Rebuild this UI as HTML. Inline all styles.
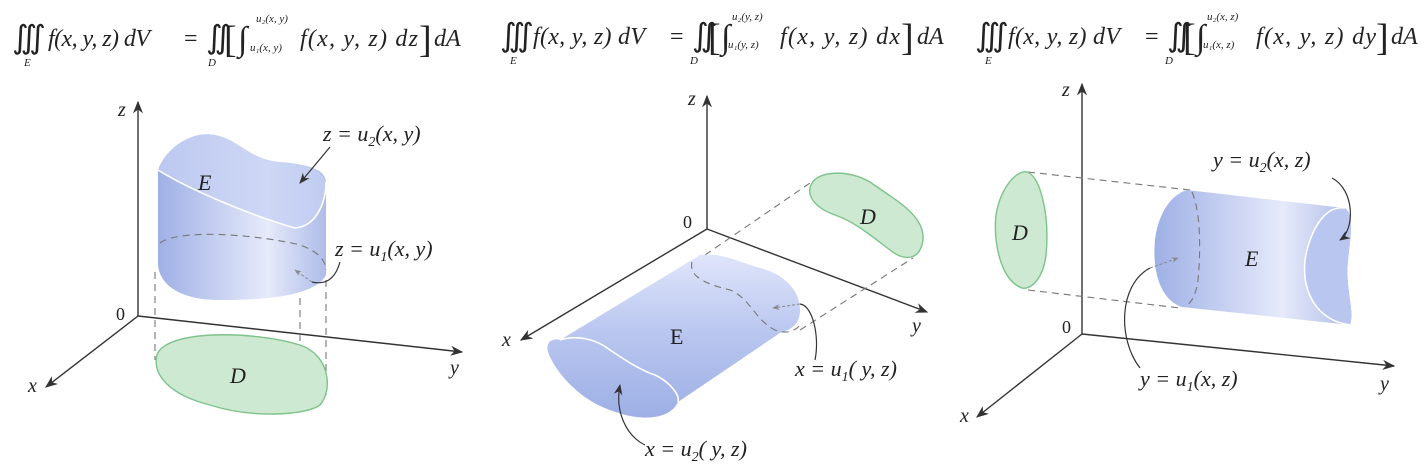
<!DOCTYPE html>
<html><head><meta charset="utf-8"><style>
html,body{margin:0;padding:0;background:#fff;}
svg{display:block;}
text{font-family:"Liberation Serif",serif;fill:#222;}
.it{font-style:italic;}
.ax{stroke:#333;stroke-width:1.4;fill:none;}
.dash{stroke:#777;stroke-width:1.1;stroke-dasharray:7 5;fill:none;}
.ptr{stroke:#333;stroke-width:1.2;fill:none;}
.green{fill:#cde9d1;stroke:#7dc38b;stroke-width:1.4;}
.edge{stroke:#fff;stroke-width:1.6;fill:none;}
</style></head><body>
<svg width="1425" height="472" viewBox="0 0 1425 472">
<defs>
<linearGradient id="gv" x1="0" y1="0" x2="1" y2="0"><stop offset="0" stop-color="#9fb0e6"/><stop offset="0.65" stop-color="#e6eafa"/><stop offset="1" stop-color="#aebce9"/></linearGradient>
<linearGradient id="gh" x1="0" y1="0" x2="0" y2="1"><stop offset="0" stop-color="#dfe5fa"/><stop offset="0.5" stop-color="#b8c5ef"/><stop offset="1" stop-color="#9dafe5"/></linearGradient>
<marker id="ar" viewBox="0 0 10 10" refX="9" refY="5" markerWidth="9" markerHeight="9" orient="auto"><path d="M0,1 L10,5 L0,9 L3,5 z" fill="#333"/></marker>
<marker id="ag" viewBox="0 0 10 10" refX="9" refY="5" markerWidth="7" markerHeight="7" orient="auto"><path d="M0,1 L10,5 L0,9 L3,5 z" fill="#888"/></marker>
</defs>

<!-- Panel 1 -->
<g>
<g>
<text x="12" y="48" font-size="32">∭</text>
<text x="24" y="66" font-size="11" class="it">E</text>
<text x="48" y="46" font-size="24" class="it" textLength="102">f(x, y, z) dV</text>
<text x="184" y="46" font-size="24">=</text>
<text x="206" y="48" font-size="32">∬</text>
<text x="208" y="66" font-size="11" class="it">D</text>
<text x="224" y="52" font-size="38">[</text>
<text x="238" y="50" font-size="34">∫</text>
<text x="256" y="22" font-size="11" class="it">u₂(x, y)</text>
<text x="250" y="51" font-size="11" class="it">u₁(x, y)</text>
<text x="300" y="46" font-size="24" class="it" textLength="118">f(x, y, z) dz</text>
<text x="419" y="52" font-size="38">]</text>
<text x="434" y="46" font-size="24" class="it">dA</text>
</g>
<path class="ax" d="M138,316 L138,102" marker-end="url(#ar)"/>
<path class="ax" d="M138,316 L462,352" marker-end="url(#ar)"/>
<path class="ax" d="M138,316 L46,387" marker-end="url(#ar)"/>
<text x="118" y="116" font-size="20" class="it">z</text>
<text x="116" y="320" font-size="18">0</text>
<text x="450" y="374" font-size="20" class="it">y</text>
<text x="28" y="392" font-size="20" class="it">x</text>
<path class="dash" d="M155,272 L155,360 M300,298 L300,412 M326,280 L326,400"/>
<path class="green" d="M157,355 C165,330 250,330 300,345 C330,355 333,390 320,405 C305,416 250,418 210,405 C170,395 152,375 157,355 Z"/>
<text x="230" y="383" font-size="22" class="it">D</text>
<path fill="url(#gv)" d="M158,170 C165,150 190,130 215,135 C240,140 250,160 280,162 C305,164 325,168 326,182 L326,275 C318,290 290,300 220,300 C180,300 160,285 158,265 Z"/>
<path fill="#c5d0f3" d="M158,170 C190,190 250,215 295,228 C318,226 326,200 326,182 C320,168 305,164 280,162 C250,160 240,140 215,135 C190,130 165,150 158,170 Z" opacity="0.75"/>
<path class="edge" d="M158,170 C190,190 250,215 295,228 C318,226 326,200 326,182"/>
<path class="dash" stroke="#5a6aa8" d="M160,243 C180,228 260,235 300,245 C320,252 326,262 326,270"/>
<text x="198" y="190" font-size="22" class="it">E</text>
<text x="323" y="141" font-size="22" class="it">z = u<tspan font-size="14" dy="5">2</tspan><tspan dy="-5">(x, y)</tspan></text>
<path class="ptr" d="M330,147 L300,183" marker-end="url(#ar)"/>
<text x="335" y="256" font-size="22" class="it">z = u<tspan font-size="14" dy="5">1</tspan><tspan dy="-5">(x, y)</tspan></text>
<path class="ptr" d="M340,262 C335,280 325,285 312,282"/>
<path d="M312,282 L295,270" stroke="#888" stroke-width="1" stroke-dasharray="3 2" marker-end="url(#ag)"/>
</g>

<!-- Panel 2 -->
<g>
<g>
<text x="500" y="46" font-size="32">∭</text>
<text x="510" y="64" font-size="11" class="it">E</text>
<text x="533" y="44" font-size="24" class="it" textLength="112">f(x, y, z) dV</text>
<text x="670" y="44" font-size="24">=</text>
<text x="692" y="46" font-size="32">∬</text>
<text x="690" y="64" font-size="11" class="it">D</text>
<text x="708" y="50" font-size="38">[</text>
<text x="721" y="48" font-size="34">∫</text>
<text x="732" y="20" font-size="11" class="it">u₂(y, z)</text>
<text x="728" y="48" font-size="11" class="it">u₁(y, z)</text>
<text x="780" y="44" font-size="24" class="it" textLength="120">f(x, y, z) dx</text>
<text x="901" y="50" font-size="38">]</text>
<text x="917" y="44" font-size="24" class="it">dA</text>
</g>
<path class="ax" d="M707,229 L707,96" marker-end="url(#ar)"/>
<path class="ax" d="M707,229 L927,312" marker-end="url(#ar)"/>
<path class="ax" d="M707,229 L521,340" marker-end="url(#ar)"/>
<text x="688" y="105" font-size="20" class="it">z</text>
<text x="683" y="228" font-size="18">0</text>
<text x="912" y="332" font-size="20" class="it">y</text>
<text x="502" y="346" font-size="20" class="it">x</text>
<path class="dash" d="M705,255 L810,183 M800,330 L913,258"/>
<path class="green" d="M812,183 C820,170 850,170 870,182 C895,200 925,215 923,240 C920,260 905,262 890,250 C870,235 855,222 835,215 C815,208 805,195 812,183 Z"/>
<text x="860" y="224" font-size="22" class="it">D</text>
<path fill="url(#gh)" d="M700,255 C720,252 740,262 760,268 C790,276 800,295 800,310 C800,325 790,330 780,333 L678,402 C670,420 640,422 610,410 C580,400 555,372 548,352 C545,340 555,338 560,340 Z"/>
<path class="edge" d="M560,340 C575,335 595,338 610,350 C625,360 640,370 655,375 C670,382 680,395 678,402"/>
<path class="dash" stroke="#5a6aa8" d="M692,262 C688,278 710,285 730,290 C750,298 755,320 775,330 C785,334 795,332 800,325"/>
<text x="670" y="344" font-size="22">E</text>
<text x="795" y="376" font-size="22" class="it">x = u<tspan font-size="14" dy="5">1</tspan><tspan dy="-5">( y, z)</tspan></text>
<path class="ptr" d="M815,360 C820,335 812,305 800,304"/>
<path d="M800,304 L773,308" stroke="#888" stroke-width="1" stroke-dasharray="3 2" marker-end="url(#ag)"/>
<text x="645" y="456" font-size="22" class="it">x = u<tspan font-size="14" dy="5">2</tspan><tspan dy="-5">( y, z)</tspan></text>
<path class="ptr" d="M645,445 C625,435 615,410 620,385" marker-end="url(#ar)"/>
</g>

<!-- Panel 3 -->
<g>
<g>
<text x="975" y="46" font-size="32">∭</text>
<text x="985" y="64" font-size="11" class="it">E</text>
<text x="1008" y="44" font-size="24" class="it" textLength="112">f(x, y, z) dV</text>
<text x="1145" y="44" font-size="24">=</text>
<text x="1167" y="46" font-size="32">∬</text>
<text x="1165" y="64" font-size="11" class="it">D</text>
<text x="1183" y="50" font-size="38">[</text>
<text x="1196" y="48" font-size="34">∫</text>
<text x="1207" y="20" font-size="11" class="it">u₂(x, z)</text>
<text x="1203" y="48" font-size="11" class="it">u₁(x, z)</text>
<text x="1256" y="44" font-size="24" class="it" textLength="120">f(x, y, z) dy</text>
<text x="1376" y="50" font-size="38">]</text>
<text x="1391" y="44" font-size="24" class="it">dA</text>
</g>
<path class="ax" d="M1082,334 L1082,84" marker-end="url(#ar)"/>
<path class="ax" d="M1082,334 L1394,366" marker-end="url(#ar)"/>
<path class="ax" d="M1082,334 L977,417" marker-end="url(#ar)"/>
<text x="1062" y="96" font-size="20" class="it">z</text>
<text x="1062" y="333" font-size="18">0</text>
<text x="1380" y="390" font-size="20" class="it">y</text>
<text x="960" y="422" font-size="20" class="it">x</text>
<path class="dash" d="M1028,172 L1190,190 M1028,290 L1180,308"/>
<path class="green" d="M1027,172 C1040,175 1050,215 1046,255 C1043,280 1030,290 1022,288 C1000,280 993,240 996,215 C1000,190 1015,170 1027,172 Z"/>
<text x="1012" y="240" font-size="22" class="it">D</text>
<path fill="url(#gv)" d="M1187,190 L1345,208 C1355,215 1350,240 1348,260 C1345,290 1355,310 1350,325 L1182,307 C1160,300 1152,270 1155,240 C1158,215 1170,195 1187,190 Z"/>
<path fill="#b9c6f0" d="M1345,208 C1325,205 1310,230 1305,260 C1302,290 1315,320 1350,325 C1355,310 1345,290 1348,260 C1350,240 1355,215 1345,208 Z"/>
<path class="edge" d="M1345,208 C1325,205 1310,230 1305,260 C1302,290 1315,320 1350,325"/>
<path class="dash" stroke="#5a6aa8" d="M1192,192 C1202,215 1200,260 1198,280 C1196,295 1192,302 1185,307"/>
<text x="1245" y="266" font-size="22" class="it">E</text>
<text x="1213" y="167" font-size="22" class="it">y = u<tspan font-size="14" dy="5">2</tspan><tspan dy="-5">(x, z)</tspan></text>
<path class="ptr" d="M1332,178 C1355,190 1355,230 1340,240" marker-end="url(#ar)"/>
<text x="1140" y="386" font-size="22" class="it">y = u<tspan font-size="14" dy="5">1</tspan><tspan dy="-5">(x, z)</tspan></text>
<path class="ptr" d="M1140,368 C1118,340 1118,285 1150,268"/>
<path d="M1150,268 L1178,258" stroke="#888" stroke-width="1" stroke-dasharray="3 2" marker-end="url(#ag)"/>
</g>
</svg>
</body></html>
